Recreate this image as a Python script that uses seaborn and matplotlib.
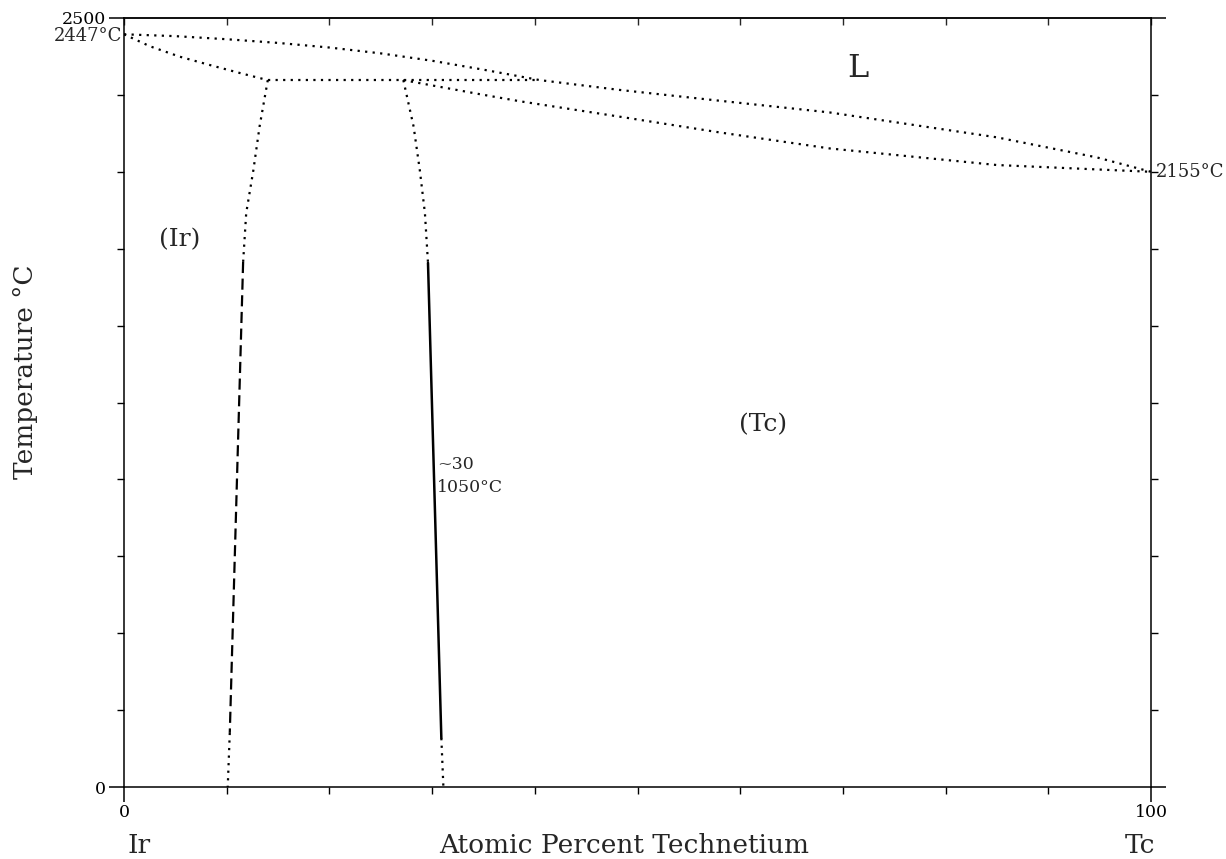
import matplotlib
matplotlib.use("Agg")
import matplotlib.pyplot as plt
import seaborn as sns
from matplotlib.ticker import MultipleLocator, FixedLocator

# ---- data (at.% Tc, temperature in degC) ----
liq_x = [0, 5, 10, 15, 20, 25, 30, 35, 40.5, 48.3, 58.0, 68.7, 85.0, 94.7, 100]
liq_t = [2447, 2441, 2431, 2419, 2404, 2385, 2361, 2332, 2298, 2266, 2231, 2193, 2112, 2047, 2000]

ir_sol_x = [0, 2.53, 5.45, 8.37, 11.3, 14.0]
ir_sol_t = [2447, 2408, 2374, 2347, 2321, 2298]

tc_sol_x = [27.2, 34.7, 38.6, 48.3, 58.0, 68.7, 85.0, 100]
tc_sol_t = [2298, 2252, 2229, 2179, 2128, 2076, 2022, 2000]

perit_x = [14.0, 40.5]
perit_t = [2298, 2298]

# (Ir) solvus: dotted top, dashed middle, dotted bottom
ir_solv_top_x = [14.0, 13.2, 12.6, 11.9, 11.6]
ir_solv_top_t = [2298, 2147, 2006, 1866, 1707]
ir_solv_mid_x = [11.6, 10.3]
ir_solv_mid_t = [1707, 176]
ir_solv_bot_x = [10.3, 10.1]
ir_solv_bot_t = [176, 0]

# (Tc) solvus: dotted top, solid middle, dotted bottom
tc_solv_top_x = [27.2, 28.2, 28.8, 29.3, 29.6]
tc_solv_top_t = [2298, 2147, 2006, 1866, 1704]
tc_solv_mid_x = [29.6, 30.9]
tc_solv_mid_t = [1704, 159]
tc_solv_bot_x = [30.9, 31.1]
tc_solv_bot_t = [159, 0]

X_MAX = 100
T_MAX = 2500

sns.set_theme(style="ticks")
plt.rcParams["font.family"] = ["DejaVu Serif", "DejaVu Sans"]

fig = plt.figure(figsize=(12.26, 8.59), dpi=100)
ax = fig.add_axes([124 / 1226, 72 / 859, 1027 / 1226, 769 / 859])

DOT = (0, (1, 2.4))
DASH = (0, (5, 2.5))
K = "black"

def draw(x, t, ls, lw=1.6):
    sns.lineplot(x=x, y=t, ax=ax, sort=False, estimator=None, color=K,
                 linestyle=ls, linewidth=lw, legend=False)

draw(liq_x, liq_t, DOT)
draw(ir_sol_x, ir_sol_t, DOT)
draw(tc_sol_x, tc_sol_t, DOT)
draw(perit_x, perit_t, DOT)
draw(ir_solv_top_x, ir_solv_top_t, DOT)
draw(ir_solv_mid_x, ir_solv_mid_t, DASH, 1.6)
draw(ir_solv_bot_x, ir_solv_bot_t, DOT)
draw(tc_solv_top_x, tc_solv_top_t, DOT)
draw(tc_solv_mid_x, tc_solv_mid_t, "-", 1.8)
draw(tc_solv_bot_x, tc_solv_bot_t, DOT)

ax.set_xlim(0, X_MAX)
ax.set_ylim(0, T_MAX)
for s in ax.spines.values():
    s.set_visible(True)
    s.set_linewidth(1.1)
    s.set_color(K)

# ticks: labelled ends are long, the rest short
ax.xaxis.set_major_locator(FixedLocator([0, X_MAX]))
ax.xaxis.set_minor_locator(MultipleLocator(10))
ax.yaxis.set_major_locator(FixedLocator([0, T_MAX]))
ax.yaxis.set_minor_locator(MultipleLocator(250))
ax.tick_params(axis="x", which="both", direction="out", bottom=True, top=False,
               labelsize=12.5, pad=1, colors=K)
ax.tick_params(axis="y", which="both", direction="out", left=True, right=True,
               labelsize=12.5, pad=2, colors=K)
ax.tick_params(which="major", length=11, width=1.1)
ax.tick_params(which="minor", length=5, width=1.0)

top = ax.secondary_xaxis("top")
top.xaxis.set_major_locator(FixedLocator([]))
top.xaxis.set_minor_locator(MultipleLocator(10))
top.tick_params(which="minor", direction="in", length=5, width=1.0)
top.spines["top"].set_linewidth(1.1)

ax.set_xlabel("")
ax.set_ylabel("")

# labels
ax.text(71.5, 2337, "L", fontsize=23, ha="center", va="center")
ax.text(5.45, 1778, "(Ir)", fontsize=18, ha="center", va="center")
ax.text(62.2, 1177, "(Tc)", fontsize=18, ha="center", va="center")
ax.text(30.5, 1047, "~30", fontsize=12.5, ha="left", va="center")
ax.text(30.5, 975, "1050°C", fontsize=12.5, ha="left", va="center")
ax.text(-0.2, 2440, "2447°C", fontsize=13, ha="right", va="center", clip_on=False)
ax.text(100.5, 2000, "2155°C", fontsize=13, ha="left", va="center", clip_on=False)

ax.text(1.46, -189, "Ir", fontsize=19, ha="center", va="center", clip_on=False)
ax.text(98.9, -189, "Tc", fontsize=19, ha="center", va="center", clip_on=False)
ax.text(48.7, -189, "Atomic Percent Technetium", fontsize=19,
        ha="center", va="center", clip_on=False)
fig.text(25 / 1226, 1 - 372 / 859, "Temperature °C", fontsize=19,
         rotation=90, ha="center", va="center")

fig.savefig("out.png", dpi=100, facecolor="white")
